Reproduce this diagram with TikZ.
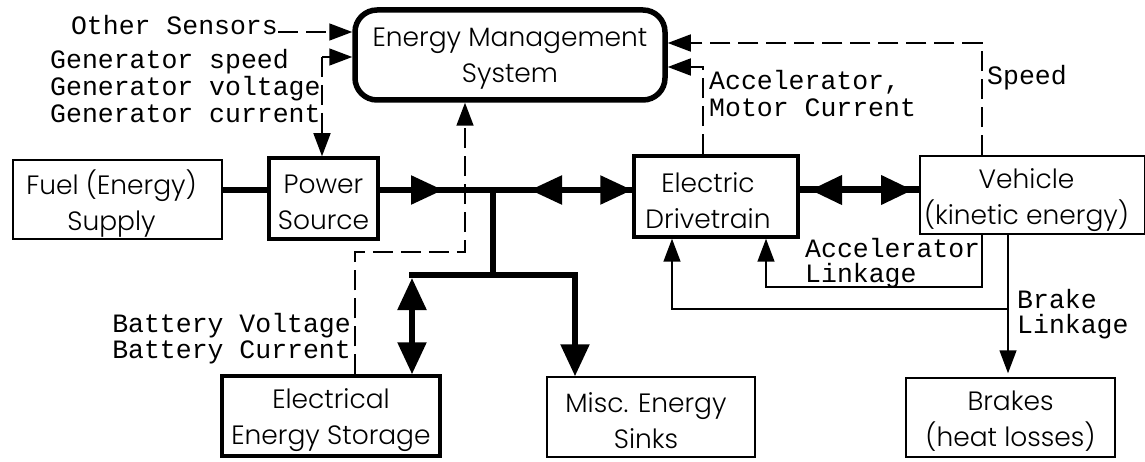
\documentclass[tikz,border=0pt]{standalone}
\usepackage{fontspec}
\setmainfont{Poppins}[UprightFont={* Light}]
\newfontfamily\monof{Liberation Mono}
\usetikzlibrary{arrows.meta}
\newcommand\boxfont{\fontsize{26.5pt}{36pt}\selectfont}
\newcommand\lblfont{\monof\fontsize{26.5pt}{27pt}\selectfont}
\tikzset{
  box/.style={draw, line width=1.5pt, inner sep=0pt},
  tbox/.style={box, line width=3.5pt},
  btxt/.style={inner sep=0pt, align=center, font=\boxfont},
  bus/.style={line width=5.5pt},
  bigbus/.style={line width=7pt},
  sig/.style={line width=1.5pt},
  dsh/.style={line width=1.6pt, dash pattern=on 20pt off 8pt},
  lbl/.style={font=\lblfont, inner sep=0pt},
  BT/.tip={Triangle[length=32pt,width=28pt]},
  ST/.tip={Triangle[length=23pt,width=17pt]},
}
\begin{document}
\begin{tikzpicture}[x=1pt,y=-1pt]
\useasboundingbox (0,0) rectangle (1145,462);
\fill[white] (0,0) rectangle (1145,462);

% boxes
\node[tbox, line width=5.5pt, rounded corners=22pt, minimum width=310pt, minimum height=90pt] (ems) at (510,55) {};
\node[box, minimum width=209pt, minimum height=79pt] (fuel) at (117.5,199.5) {};
\node[tbox, minimum width=109pt, minimum height=81pt] (ps) at (323.5,198.5) {};
\node[tbox, minimum width=164pt, minimum height=81pt] (dt) at (716,196.5) {};
\node[box, minimum width=225pt, minimum height=78pt] (veh) at (1032.5,195) {};
\node[tbox, minimum width=218pt, minimum height=80pt] (sto) at (331,416) {};
\node[box, minimum width=208pt, minimum height=80pt] (misc) at (651,417) {};
\node[box, minimum width=209pt, minimum height=79pt] (brk) at (1010.5,417.5) {};

% box texts
\node[btxt] (emst) at ([yshift=-4pt]ems.center) {Energy Management\\System};
\node[btxt] (fuelt) at ([xshift=-6pt,yshift=-4pt]fuel.center) {Fuel (Energy)\\Supply};
\node[btxt] (pst) at ([yshift=-4pt]ps.center) {Power\\Source};
\node[btxt] (dtt) at ([xshift=-8pt,yshift=-4pt]dt.center) {Electric\\Drivetrain};
\node[btxt] (veht) at ([xshift=-6pt,yshift=-5pt]veh.center) {Vehicle\\(kinetic energy)};
\node[btxt] (stot) at ([yshift=-4pt]sto.center) {Electrical\\Energy Storage};
\node[btxt] (misct) at ([xshift=-5pt,yshift=-4pt]misc.center) {Misc. Energy\\Sinks};
\node[btxt] (brkt) at ([yshift=-4pt]brk.center) {Brakes\\(heat losses)};

% labels
\node[lbl, anchor=base east] (os) at (278,35) {Other Sensors};
\node[lbl, anchor=base west] (g1) at (50,69) {Generator speed};
\node[lbl, anchor=base west] (g2) at (50,96) {Generator voltage};
\node[lbl, anchor=base west] (g3) at (50,123) {Generator current};
\node[lbl, anchor=base west] (am1) at (709,90) {Accelerator,};
\node[lbl, anchor=base west] (am2) at (709,117) {Motor Current};
\node[lbl, anchor=base west] (spd) at (987,85) {Speed};
\node[lbl, anchor=base west] (al1) at (805,258) {Accelerator};
\node[lbl, anchor=base west] (al2) at (805,283) {Linkage};
\node[lbl, anchor=base west] (bl1) at (1017,308) {Brake};
\node[lbl, anchor=base west] (bl2) at (1017,333) {Linkage};
\node[lbl, anchor=base east] (bv1) at (351,332) {Battery Voltage};
\node[lbl, anchor=base east] (bv2) at (351,358) {Battery Current};

% coordinates
\coordinate (J1) at (493,190);
\coordinate (J2) at (493,275);
\coordinate (Ls) at (412,275);
\coordinate (Lm) at (575,275);
\coordinate (a1) at (443,190);
\coordinate (a2) at (530,190);
\coordinate (b1) at (810,190);
\coordinate (b2) at (913,190);
\coordinate (osend) at ([yshift=3pt]os.base east);
\coordinate (gc) at (322,57);
\coordinate (sp) at (982,43);
\coordinate (ac) at (703,67);
\coordinate (bt1) at (355,252);
\coordinate (bt2) at (465,252);
\coordinate (alc) at (982,287);
\coordinate (alc2) at (766,287);
\coordinate (bk) at (1008,309);
\coordinate (bk2) at (672,309);

% power bus
\draw[bus] (fuel.east |- J1) -- (ps.west |- J1);
\draw[bus] (ps.east |- J1) -- (dt.west |- J1);
\draw[bus,-{BT}] (ps.east |- J1) -- (a1);
\draw[bus,{BT}-{BT}] (a2) -- (dt.west |- J1);
\draw[bus] (J1) -- (J2);
\draw[bus, line cap=rect] (Ls) -- (Lm);
\draw[bus,{BT}-{BT}, shorten <=3pt] (Ls) -- (sto.north -| Ls);
\draw[bus,-{BT}] (Lm) -- (misc.north -| Lm);
\draw[bigbus] (dt.east |- J1) -- (veh.west |- J1);
\draw[bigbus,{BT}-{BT}] (b1) -- (b2);

% signals to EMS
\draw[dsh,-{ST}] (osend) -- (ems.west |- osend);
\draw[dsh,-{ST}] (gc) -- (ems.west |- gc);
\draw[dsh,-{ST}] (gc) -- (ps.north -| gc);
\draw[dsh,-{ST}] (veh.north -| sp) -- (sp) -- (ems.east |- sp);
\draw[dsh,-{ST}] (dt.north -| ac) -- (ac) -- (ems.east |- ac);
\draw[dsh,-{ST}] (sto.north -| bt1) -- (bt1) -- (bt2) -- (ems.south -| bt2);

% linkages
\draw[sig,-{ST}] (veh.south -| alc) -- (alc) -- (alc2) -- (dt.south -| alc2);
\draw[sig,-{ST}, shorten >=4pt] (veh.south -| bk) -- (brk.north -| bk);
\draw[sig,-{ST}] (bk) -- (bk2) -- (dt.south -| bk2);
\end{tikzpicture}
\end{document}
